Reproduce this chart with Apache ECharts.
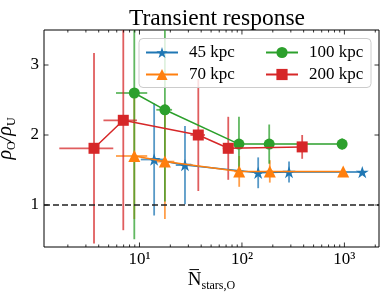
<!DOCTYPE html>
<html><head><meta charset="utf-8">
<script src="https://cdn.jsdelivr.net/npm/echarts@6/dist/echarts.min.js"></script>
<style>html,body{margin:0;padding:0;background:#fff}#c{width:385px;height:302px}</style>
</head><body><div id="c"></div>
<script>
const FONT = '"Liberation Serif", "DejaVu Serif", serif';

// ---- data ----
const seriesNames = ['45 kpc', '70 kpc', '100 kpc', '200 kpc'];
const colors = ['#1f77b4', '#ff7f0e', '#2ca02c', '#d62728'];

const x45 = [13.9, 27.8, 144, 288, 1494];
const y45 = [1.65, 1.57, 1.46, 1.47, 1.47];
const xerr45 = [3.6, 5.2, 12, 17, 38];
const yerr45 = [0.80, 0.56, 0.22, 0.15, 0.03];

const x70 = [8.9, 17.7, 94, 187, 973];
const y70 = [1.70, 1.62, 1.48, 1.48, 1.48];
const xerr70 = [3.0, 4.2, 9.7, 13.7, 31];
const yerr70 = [0.90, 0.82, 0.22, 0.16, 0.03];

const x100 = [8.9, 17.7, 93.5, 184.5, 950];
const y100 = [2.60, 2.36, 1.87, 1.87, 1.87];
const xerr100 = [3.0, 3.1, 9.7, 13.6, 31];
const yerr100 = [2.09, 1.31, 0.39, 0.28, 0.08];

const x200 = [3.6, 6.95, 37.5, 73.5, 387];
const y200 = [1.81, 2.21, 2.00, 1.81, 1.83];
const xerr200 = [1.95, 2.5, 6.1, 8.6, 20];
const yerr200 = [1.36, 1.57, 0.80, 0.45, 0.17];

const xRange = [1.17, 2175];
const yRange = [0.4, 3.5];
const xMajorTicks = [10, 100, 1000];
const xMajorLabels = ['10¹', '10²', '10³'];
const xMinorTicks = [2, 3, 4, 5, 6, 7, 8, 9, 20, 30, 40, 50, 60, 70, 80, 90, 200, 300, 400, 500, 600, 700, 800, 900, 2000];
const yTicks = [1, 2, 3];
const yTickLabels = ['1', '2', '3'];
const refLine = 1;

// x axis is logarithmic: values are placed on a log10 value axis
const L = Math.log10;

// ---- build ----
const groups = [
  {x: x45, y: y45, xe: xerr45, ye: yerr45},
  {x: x70, y: y70, xe: xerr70, ye: yerr70},
  {x: x100, y: y100, xe: xerr100, ye: yerr100},
  {x: x200, y: y200, xe: xerr200, ye: yerr200}
];
const starPath = 'path://M0,-1L0.2245,-0.309L0.951,-0.309L0.363,0.118L0.588,0.809L0,0.382L-0.588,0.809L-0.363,0.118L-0.951,-0.309L-0.2245,-0.309Z';
const symbols = [starPath, 'triangle', 'circle', 'rect'];
const symbolSizes = [13, 12, 11, 11];

const series = [];
groups.forEach((g, k) => {
  series.push({
    type: 'custom', name: 'err' + k, coordinateSystem: 'cartesian2d', clip: true, z: 2 + k * 0.1,
    data: g.x.map((v, i) => [L(v), g.y[i], L(v - g.xe[i]), L(v + g.xe[i]), g.y[i] - g.ye[i], g.y[i] + g.ye[i]]),
    renderItem: function (params, api) {
      const x = api.value(0), y = api.value(1);
      const p = api.coord([x, y]);
      const xl = api.coord([api.value(2), y])[0], xh = api.coord([api.value(3), y])[0];
      const yl = api.coord([x, api.value(4)])[1], yh = api.coord([x, api.value(5)])[1];
      const st = {stroke: colors[k], lineWidth: 1.8, opacity: 0.75};
      return {type: 'group', children: [
        {type: 'line', shape: {x1: xl, y1: p[1], x2: xh, y2: p[1]}, style: st},
        {type: 'line', shape: {x1: p[0], y1: yl, x2: p[0], y2: yh}, style: st}
      ]};
    },
    silent: true
  });
  const s = {
    type: 'line', name: seriesNames[k], z: 3 + k * 0.1,
    data: g.x.map((v, i) => [L(v), g.y[i]]),
    symbol: symbols[k], symbolSize: symbolSizes[k], symbolKeepAspect: true,
    showAllSymbol: true,
    lineStyle: {color: colors[k], width: 1.5},
    itemStyle: {color: colors[k], opacity: 1},
    silent: true
  };
  if (k === 0) {
    s.markLine = {silent: true, symbol: ['none', 'none'], label: {show: false},
      lineStyle: {type: [6, 3], color: '#222', width: 1.5},
      data: [{yAxis: refLine}], animation: false};
  }
  series.push(s);
});

// ticks
const xTickList = xMajorTicks.map((v, i) => ({v, major: true, label: xMajorLabels[i]}))
  .concat(xMinorTicks.map(v => ({v, major: false, label: ''})));
series.push({
  type: 'custom', name: 'xticks', coordinateSystem: 'cartesian2d', clip: false, silent: true, z: 5,
  data: xTickList.map(t => [L(t.v), 1]),
  renderItem: function (params, api) {
    const t = xTickList[params.dataIndex];
    const cs = params.coordSys;
    const px = api.coord([api.value(0), 1])[0];
    const len = t.major ? 4.5 : 2.5;
    const b = cs.y + cs.height, tp = cs.y;
    const ch = [
      {type: 'line', shape: {x1: px, y1: b, x2: px, y2: b - len}, style: {stroke: '#000', lineWidth: 0.8}},
      {type: 'line', shape: {x1: px, y1: tp, x2: px, y2: tp + len}, style: {stroke: '#000', lineWidth: 0.8}}
    ];
    if (t.major) ch.push({type: 'text', style: {text: t.label, x: px, y: b + 4, align: 'center', verticalAlign: 'top',
      fontSize: 17, fontFamily: FONT, fill: '#000'}});
    return {type: 'group', children: ch};
  }
});
series.push({
  type: 'custom', name: 'yticks', coordinateSystem: 'cartesian2d', clip: false, silent: true, z: 5,
  data: yTicks.map(v => [1, v]),
  renderItem: function (params, api) {
    const cs = params.coordSys;
    const py = api.coord([1, api.value(1)])[1];
    const l = cs.x, r = cs.x + cs.width;
    return {type: 'group', children: [
      {type: 'line', shape: {x1: l, y1: py, x2: l + 4.5, y2: py}, style: {stroke: '#000', lineWidth: 0.8}},
      {type: 'line', shape: {x1: r, y1: py, x2: r - 4.5, y2: py}, style: {stroke: '#000', lineWidth: 0.8}},
      {type: 'text', style: {text: yTickLabels[params.dataIndex], x: l - 5, y: py, align: 'right', verticalAlign: 'middle',
        fontSize: 17, fontFamily: FONT, fill: '#000'}}
    ]};
  }
});

const chart = echarts.init(document.getElementById('c'), null, {renderer: 'canvas'});
chart.setOption({
  animation: false,
  backgroundColor: '#fff',
  title: {text: 'Transient response', left: 212, textAlign: 'center', top: 2,
    textStyle: {fontFamily: FONT, fontSize: 23.5, fontWeight: 'normal', color: '#000'}},
  grid: {left: 44, right: 6, top: 30, bottom: 55, show: true, borderColor: '#000', borderWidth: 1,
    backgroundColor: 'transparent', containLabel: false, outerBoundsMode: 'none'},
  xAxis: {type: 'value', min: L(xRange[0]), max: L(xRange[1]),
    axisLine: {show: false}, axisTick: {show: false}, axisLabel: {show: false}, splitLine: {show: false},
    name: '{n|N\u0305}{s|stars,O}', nameLocation: 'middle', nameGap: 21,
    nameTextStyle: {rich: {
      n: {fontFamily: FONT, fontSize: 19, color: '#000', verticalAlign: 'middle', lineHeight: 24},
      s: {fontFamily: FONT, fontSize: 12, color: '#000', verticalAlign: 'bottom', lineHeight: 12}
    }}},
  yAxis: {type: 'value', min: yRange[0], max: yRange[1],
    axisLine: {show: false}, axisTick: {show: false}, axisLabel: {show: false}, splitLine: {show: false},
    name: '{r|ρ}{s|O}{r|/ρ}{s|U}', nameLocation: 'middle', nameGap: 26, nameRotate: 90,
    nameTextStyle: {rich: {
      r: {fontFamily: FONT, fontSize: 20, fontStyle: 'italic', color: '#000', verticalAlign: 'middle', lineHeight: 24},
      s: {fontFamily: FONT, fontSize: 12, color: '#000', verticalAlign: 'bottom', lineHeight: 12}
    }}},
  graphic: [{type: 'rect', z: 3, shape: {x: 139, y: 38.5, width: 232, height: 49, r: 4},
    style: {fill: 'rgba(255,255,255,0.8)', stroke: '#cccccc', lineWidth: 1}}],
  legend: [
    {orient: 'vertical', left: 145, top: 44, padding: 0, itemGap: 5, itemWidth: 32, itemHeight: 14, z: 4,
      data: ['45 kpc', '70 kpc'],
      textStyle: {fontFamily: FONT, fontSize: 17, color: '#000', lineHeight: 14, padding: [0, 0, 0, 6]}},
    {orient: 'vertical', left: 265, top: 44, padding: 0, itemGap: 5, itemWidth: 32, itemHeight: 14, z: 4,
      data: ['100 kpc', '200 kpc'],
      textStyle: {fontFamily: FONT, fontSize: 17, color: '#000', lineHeight: 14, padding: [0, 0, 0, 6]}}
  ],
  series: series
});
</script></body></html>
